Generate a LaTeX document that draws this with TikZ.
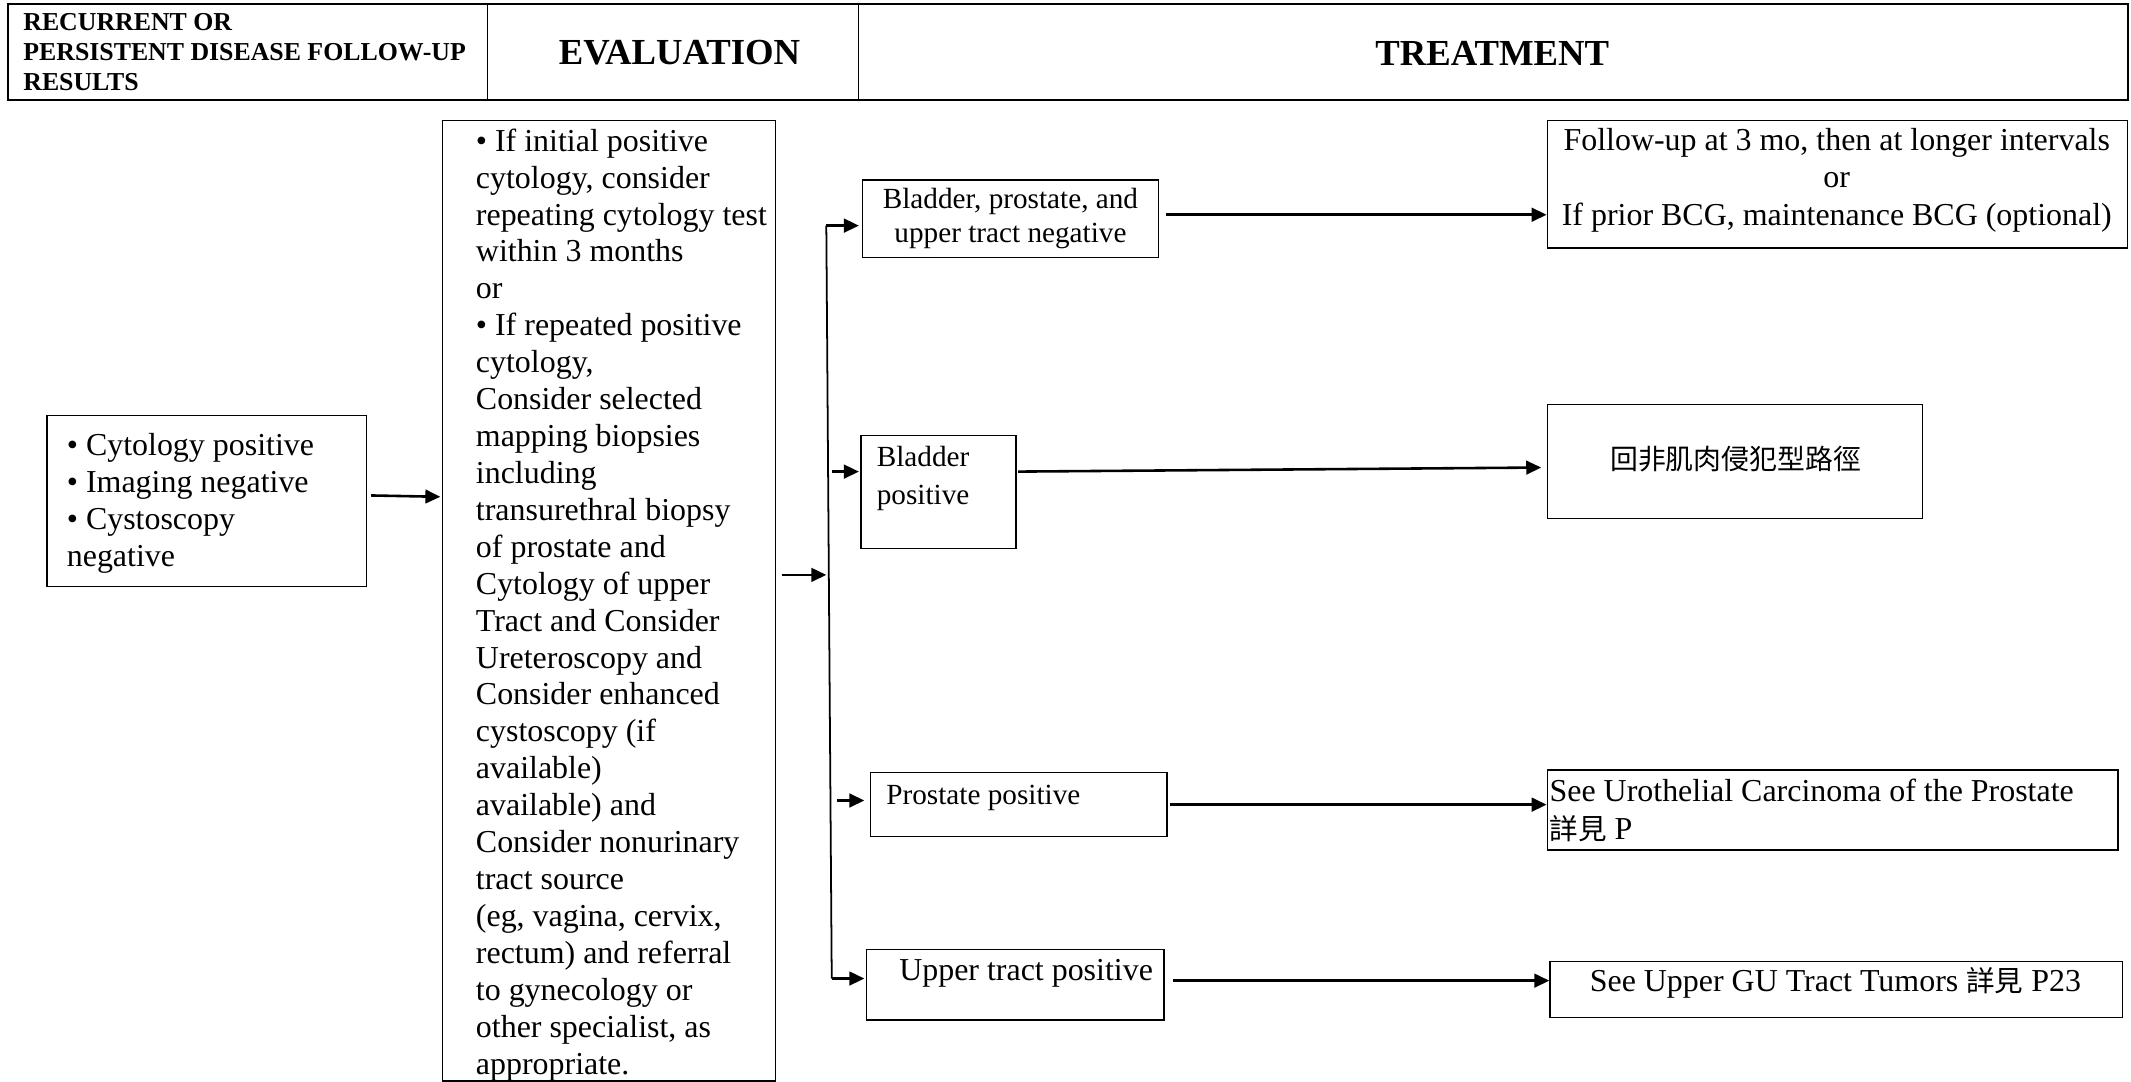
\documentclass[tikz,border=0pt]{standalone}
\usepackage{fontspec}
\setmainfont{Liberation Serif}
\newfontfamily\cjk{Noto Sans CJK TC}
\newcommand\zh[1]{{\cjk\fontsize{21}{27.16}\selectfont #1}}
\usetikzlibrary{arrows.meta,calc}
\begin{document}
\begin{tikzpicture}[x=1pt,y=-1pt,
  box/.style={draw,line width=1.1pt,inner sep=0pt,anchor=north west},
  hbox/.style={draw,line width=1.4pt,inner sep=0pt,anchor=north west},
  txt/.style={inner sep=0pt,font={\fontsize{23.5}{27.16}\selectfont},align=left},
  stxt/.style={inner sep=0pt,font={\fontsize{21.5}{25}\selectfont},align=left},
  arr/.style={line width=1.9pt,-{Triangle[length=11pt,width=10pt]}},
  conn/.style={line width=1.3pt}]
\useasboundingbox (0,0) rectangle (1568,796);
% header
\node[hbox,minimum width=353pt,minimum height=71pt] (H1) at (5,2) {};
\node[hbox,minimum width=273pt,minimum height=71pt] (H2) at (358,2) {};
\node[hbox,minimum width=934pt,minimum height=71pt] (H3) at (631,2) {};
\node[inner sep=0pt,align=left,anchor=west,font={\fontsize{19}{22}\selectfont\bfseries}] (h1t) at (17,38.5)
  {RECURRENT OR\\PERSISTENT DISEASE FOLLOW-UP\\RESULTS};
\node[inner sep=0pt,font={\fontsize{27}{30}\selectfont\bfseries}] (h2t) at (500,39) {EVALUATION};
\node[inner sep=0pt,font={\fontsize{27}{30}\selectfont\bfseries}] (h3t) at (1098,39) {TREATMENT};
% boxes
\node[box,minimum width=235pt,minimum height=126pt] (L) at (34,305) {};
\node[box,minimum width=245pt,minimum height=707pt] (E) at (325,88) {};
\node[box,minimum width=218pt,minimum height=57pt] (B1) at (634,132) {};
\node[box,minimum width=114pt,minimum height=83pt] (B2) at (633,320) {};
\node[box,minimum width=218pt,minimum height=47pt] (B3) at (640,568) {};
\node[box,minimum width=219pt,minimum height=52pt] (B4) at (637,698) {};
\node[box,minimum width=427pt,minimum height=94pt] (T1) at (1138,88) {};
\node[box,minimum width=276pt,minimum height=84pt] (T2) at (1138,297) {};
\node[box,minimum width=420pt,minimum height=59pt] (T3) at (1138,566) {};
\node[box,minimum width=421pt,minimum height=41pt] (T4) at (1140,707) {};
% texts
\node[txt,anchor=west] (Lt) at (49,370.5)
  {• Cytology positive\\• Imaging negative\\• Cystoscopy\\negative};
\node[txt,anchor=west] (Et) at (350,445)
  {• If initial positive\\cytology, consider\\repeating cytology test\\within 3 months\\or\\• If repeated positive\\cytology,\\Consider selected\\mapping biopsies\\including\\transurethral biopsy\\of prostate and\\Cytology of upper\\Tract and Consider\\Ureteroscopy and\\Consider enhanced\\cystoscopy (if\\available)\\available) and\\Consider nonurinary\\tract source\\(eg, vagina, cervix,\\rectum) and referral\\to gynecology or\\other specialist, as\\appropriate.};
\node[stxt,align=center] (B1t) at (743.5,161) {Bladder, prostate, and\\upper tract negative};
\node[stxt,anchor=west,font={\fontsize{21.5}{28}\selectfont}] (B2t) at (645,352) {Bladder\\positive};
\node[stxt,anchor=west] (B3t) at (652,587) {Prostate positive};
\node[txt] (B4t) at (755,716) {Upper tract positive};
\node[txt,align=center,font={\fontsize{23.5}{27.5}\selectfont}] (T1t) at (1351.5,132.5)
  {Follow-up at 3 mo, then at longer intervals\\or\\If prior BCG, maintenance BCG (optional)};
\node[inner sep=0pt,font={\cjk\fontsize{20.5}{25}\selectfont}] (T2t) at (1277,338) {回非肌肉侵犯型路徑};
\node[txt,anchor=west,font={\fontsize{23.5}{28}\selectfont}] (T3t) at (1140,596.5)
  {See Urothelial Carcinoma of the Prostate\\\zh{詳見} P};
\node[txt] (T4t) at (1350.5,723.5) {See Upper GU Tract Tumors \zh{詳見} P23};
% connectors
\coordinate (jm) at (608,423);
\coordinate (jt) at (608,166);
\coordinate (jb) at (612,720);
\coordinate (j2) at (612,347);
\coordinate (j3) at (616,589);
\coordinate (r1) at (858,158);
\coordinate (r2) at (1134,344);
\draw[arr] ($(L.east)+(3,-4)$) -- ($(E.west |- L.east)+(-1,-3)$);
\draw[arr] ($(E.east |- jm)+(4,0)$) -- (jm);
\draw[conn] (jt) -- (jb);
\draw[arr] (jt) -- ($(B1.west |- jt)+(-2,0)$);
\draw[arr] (j2) -- ($(B2.west |- j2)+(-1,0)$);
\draw[arr] (j3) -- ($(B3.west |- j3)+(-4,0)$);
\draw[arr] (jb) -- ($(B4.west |- jb)+(-1,0)$);
\draw[arr] (r1) -- (T1.west |- r1);
\draw[arr] ($(B2.east |- j2)+(1,0)$) -- (r2);
\draw[arr] ($(B3.east)+(2,0)$) -- (T3.west |- B3.east);
\draw[arr] ($(B4.east)+(6,-3)$) -- ($(T4.west |- B4.east)+(0,-3)$);
\end{tikzpicture}
\end{document}
